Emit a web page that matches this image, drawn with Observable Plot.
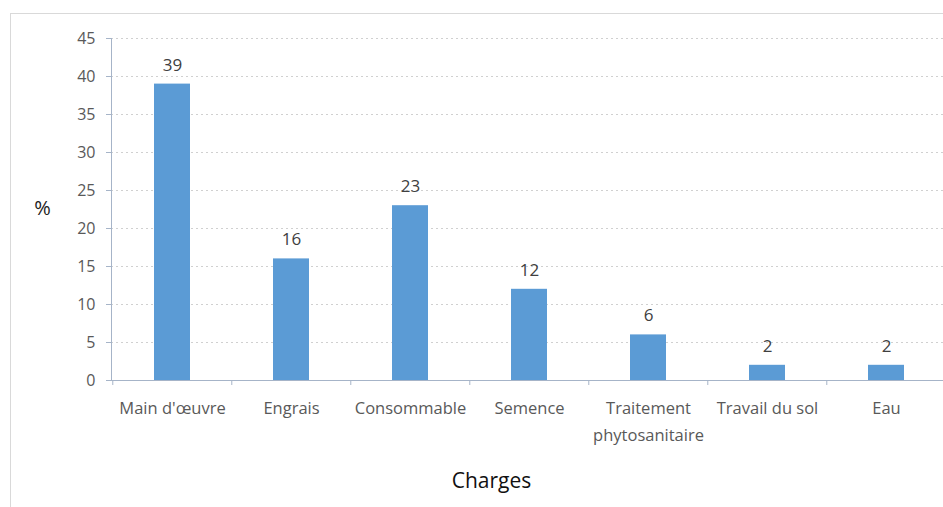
<!DOCTYPE html>
<html>
<head>
<meta charset="utf-8">
<script src="https://cdn.jsdelivr.net/npm/d3@7"></script>
<script src="https://cdn.jsdelivr.net/npm/@observablehq/plot@0.6"></script>
<style>
  html, body { margin: 0; padding: 0; background: #fff; overflow: hidden; }
  #wrap { position: relative; width: 943px; height: 507px; }
  #box { position: absolute; left: 10px; top: 13px; width: 1000px; height: 600px;
         border: 1px solid #d9d9d9; box-sizing: border-box; pointer-events: none; }
  svg { display: block; }
</style>
</head>
<body>
<div id="wrap"><div id="box"></div></div>
<script>
// Répartition des charges (%)
const categories = ["Main d'œuvre", "Engrais", "Consommable", "Semence", "Traitement\nphytosanitaire", "Travail du sol", "Eau"];
const values = [39, 16, 23, 12, 6, 2, 2];
const yTicks = [0, 5, 10, 15, 20, 25, 30, 35, 40, 45];

const data = categories.map((c, i) => ({charge: c, pct: values[i]}));

const W = 943, H = 507;
const left = 111, right = 947;
const step = (right - left) / categories.length;
const axisColor = "#a6b4c8";

const chart = Plot.plot({
  width: W,
  height: H,
  marginTop: 38,
  marginBottom: 127,
  marginLeft: left,
  marginRight: 0,
  style: {fontFamily: "'Open Sans', sans-serif", fontSize: "15px", color: "#595959", background: "transparent"},
  x: {domain: categories, range: [left, right], paddingInner: 0.7, paddingOuter: 0.35, label: null},
  y: {domain: [0, 45], ticks: yTicks, label: null},
  marks: [
    Plot.gridY(yTicks.filter(t => t > 0), {stroke: "#d0d0d0", strokeOpacity: 1, strokeDasharray: "2,3"}),
    Plot.barY(data, {x: "charge", y: "pct", fill: "#5b9bd5"}),
    Plot.text(data, {x: "charge", y: "pct", text: d => String(d.pct), dy: -19, fill: "#404040", fontSize: 17}),
    Plot.ruleY([0], {stroke: axisColor}),
    Plot.frame({anchor: "left", stroke: axisColor}),
    Plot.ruleX(categories, {x: d => d, dx: -step / 2, y1: 0, y2: 0, insetBottom: -5, stroke: axisColor}),
    Plot.axisY({ticks: yTicks, tickSize: 5, tickPadding: 11, stroke: axisColor, fill: "#595959", fontSize: 16, label: null}),
    Plot.axisX({tickSize: 0, tickPadding: 14, fill: "#595959", fontSize: 16.5, lineHeight: 1.65, label: null}),
    Plot.text(["%"], {frameAnchor: "left", textAnchor: "middle", dx: -69, dy: -1, fontSize: 20, fill: "#222"}),
    Plot.text(["Charges"], {frameAnchor: "bottom", dx: -36, dy: 107, fontSize: 21, fill: "#111"})
  ]
});

document.getElementById("wrap").prepend(chart);
</script>
</body>
</html>
